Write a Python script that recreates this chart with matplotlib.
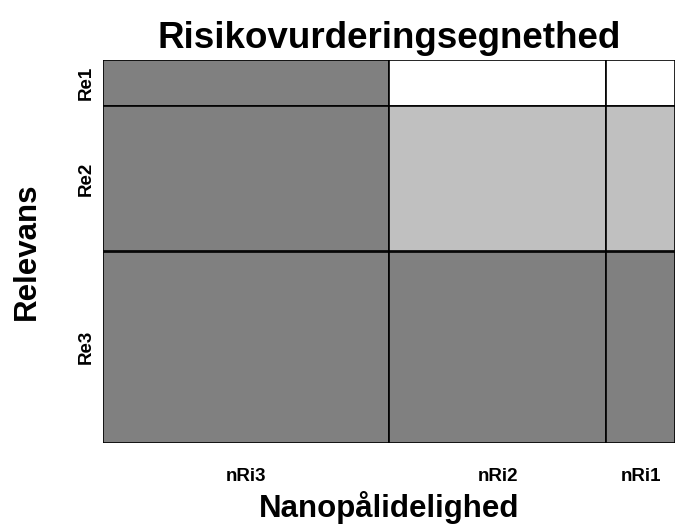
import numpy as np
import matplotlib
matplotlib.use("Agg")
import matplotlib.pyplot as plt

plt.rcParams['font.family'] = ['Liberation Sans', 'DejaVu Sans']

# kolonner (x) og rækker (y), bredder/højder i procent
cols = ['nRi3', 'nRi2', 'nRi1']
col_widths = [50, 38, 12]
rows = ['Re1', 'Re2', 'Re3']
row_heights = [12, 38, 50]
# 2 = mørk, 1 = lys, 0 = hvid
levels = [
    [2, 0, 0],
    [2, 1, 1],
    [2, 2, 2],
]
shade = {2: '#808080', 1: '#c0c0c0', 0: '#ffffff'}

fig = plt.figure(figsize=(6.75, 5.29), dpi=100)
ax = fig.add_axes([103/675, 1 - 443/529, 1 - 103/675, (443 - 60)/529])

x_left = np.concatenate(([0], np.cumsum(col_widths)[:-1]))
y_top = np.concatenate(([0], np.cumsum(row_heights)[:-1]))

for i, r in enumerate(rows):
    for j, c in enumerate(cols):
        ax.bar(x_left[j], row_heights[i], width=col_widths[j], bottom=y_top[i],
               align='edge', color=shade[levels[i][j]], edgecolor='black', linewidth=1.2)

ax.set_xlim(0, sum(col_widths))
ax.set_ylim(sum(row_heights), 0)
for s in ax.spines.values():
    s.set_visible(False)

ax.set_xticks(x_left + np.array(col_widths) / 2)
ax.set_xticklabels(cols, fontsize=13.5, fontweight='bold')
ax.set_yticks(y_top + np.array(row_heights) / 2)
ax.set_yticklabels(rows, fontsize=13.5, fontweight='bold', rotation=90, va='center')
ax.tick_params(axis='x', length=0, pad=18)
ax.tick_params(axis='y', length=0, pad=6)

ax.set_title('Risikovurderingsegnethed', fontsize=26.5, fontweight='bold', pad=9)
ax.set_xlabel('Nanopålidelighed', fontsize=22.5, fontweight='bold', labelpad=4)
ax.set_ylabel('Relevans', fontsize=22.5, fontweight='bold', labelpad=26)

fig.savefig('out.png', dpi=100)
